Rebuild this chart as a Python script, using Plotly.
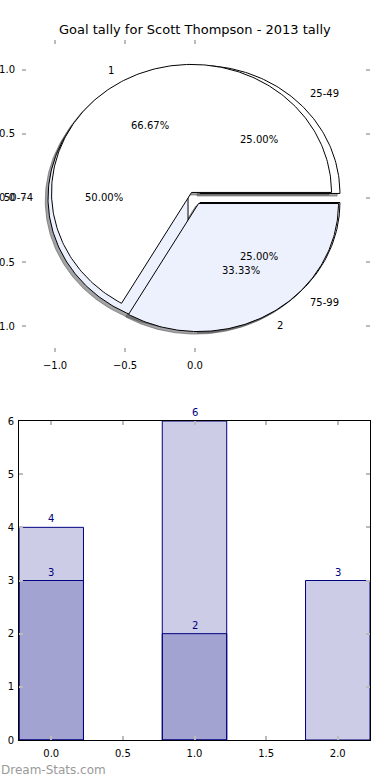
import numpy as np
import plotly.graph_objects as go

W, H = 390, 780

# ---------------- data ----------------
title = "Goal tally for Scott Thompson - 2013 tally"

# pie drawn first (underneath)
pie_a_labels = ["25-49", "50-74", "75-99"]
pie_a_values = [1, 2, 1]
# pie drawn second (on top)
pie_b_labels = ["1", "2"]
pie_b_values = [2, 1]

bar_x = [0, 1, 2]
bar_totals = [4, 6, 3]
bar_second = [3, 2, 0]

pie_xticks = [-1.0, -0.5, 0.0]
pie_yticks = [1.0, 0.5, 0.0, -0.5, -1.0]
bar_xticks = [0.0, 0.5, 1.0, 1.5, 2.0]
bar_yticks = [0, 1, 2, 3, 4, 5, 6]

# ---------------- styles ----------------
FONT = "DejaVu Sans"
pie_colors = ["#ffffff", "#ecf1fd"]
explode = 0.05
radius = 1.0
shadow_off = (-0.02, -0.02)
bar_fill = "rgba(0,0,128,0.2)"
bar_edge = "#000080"
tick_gray = "#bbbbbb"


def px_x(p):
    return p / W


def px_y(p):
    return 1 - p / H


fig = go.Figure()


def wedges(values):
    total = float(sum(values))
    out = []
    start = 0.0
    for v in values:
        frac = v / total
        t1, t2 = 360 * start, 360 * (start + frac)
        mid = np.deg2rad((t1 + t2) / 2)
        cx, cy = explode * np.cos(mid), explode * np.sin(mid)
        n = max(int(abs(t2 - t1)), 2) + 1
        th = np.deg2rad(np.linspace(t1, t2, n))
        xs = np.concatenate([[cx], cx + radius * np.cos(th), [cx]])
        ys = np.concatenate([[cy], cy + radius * np.sin(th), [cy]])
        out.append(dict(xs=xs, ys=ys, mid=mid, cx=cx, cy=cy, frac=frac))
        start += frac
    return out


wa = wedges(pie_a_values)
wb = wedges(pie_b_values)


def rgb_to_shadow(hexc):
    r = int(hexc[1:3], 16) * 0.3
    g = int(hexc[3:5], 16) * 0.3
    b = int(hexc[5:7], 16) * 0.3
    return f"rgba({r:.0f},{g:.0f},{b:.0f},0.5)"


# shadows (all below wedges)
for ws in (wa, wb):
    for i, w in enumerate(ws):
        sc = rgb_to_shadow(pie_colors[i % len(pie_colors)])
        fig.add_trace(go.Scatter(
            x=w["xs"] + shadow_off[0], y=w["ys"] + shadow_off[1], mode="lines",
            fill="toself", fillcolor=sc, line=dict(color=sc, width=1),
            hoverinfo="skip", showlegend=False, xaxis="x", yaxis="y"))

# wedges
for ws in (wa, wb):
    for i, w in enumerate(ws):
        fig.add_trace(go.Scatter(
            x=w["xs"], y=w["ys"], mode="lines", fill="toself",
            fillcolor=pie_colors[i % len(pie_colors)],
            line=dict(color="black", width=1),
            hoverinfo="skip", showlegend=False, xaxis="x", yaxis="y"))

annotations = []
for ws, labels in ((wa, pie_a_labels), (wb, pie_b_labels)):
    for w, lab in zip(ws, labels):
        lx = w["cx"] + 1.1 * radius * np.cos(w["mid"])
        ly = w["cy"] + 1.1 * radius * np.sin(w["mid"])
        annotations.append(dict(
            x=lx, y=ly, xref="x", yref="y", text=lab, showarrow=False,
            xanchor="left" if lx > 0 else "right", yanchor="middle",
            font=dict(family=FONT, size=10, color="black"), borderpad=0))
        tx = w["cx"] + 0.6 * radius * np.cos(w["mid"])
        ty = w["cy"] + 0.6 * radius * np.sin(w["mid"])
        annotations.append(dict(
            x=tx, y=ty, xref="x", yref="y", text=f"{100 * w['frac']:.2f}%",
            showarrow=False, xanchor="center", yanchor="middle",
            font=dict(family=FONT, size=10, color="black"), borderpad=0))

# ---------------- bars ----------------
fig.add_trace(go.Bar(
    x=bar_x, y=bar_totals, width=0.45, marker=dict(color=bar_fill, line=dict(color=bar_edge, width=1)),
    hoverinfo="skip", showlegend=False, xaxis="x2", yaxis="y2"))
sx = [x for x, v in zip(bar_x, bar_second) if v > 0]
sy = [v for v in bar_second if v > 0]
fig.add_trace(go.Bar(
    x=sx, y=sy, width=0.45, marker=dict(color=bar_fill, line=dict(color=bar_edge, width=1)),
    hoverinfo="skip", showlegend=False, xaxis="x2", yaxis="y2"))

for xs_, ys_ in ((bar_x, bar_totals), (sx, sy)):
    for x, v in zip(xs_, ys_):
        annotations.append(dict(
            x=x, y=v, xref="x2", yref="y2", text=str(v), showarrow=False,
            xanchor="center", yanchor="bottom", yshift=2,
            font=dict(family=FONT, size=10, color="#000080"), borderpad=0))

annotations.append(dict(
    x=px_x(195), y=px_y(30), xref="paper", yref="paper", text=title, showarrow=False,
    xanchor="center", yanchor="middle", font=dict(family=FONT, size=13, color="black")))
annotations.append(dict(
    x=0, y=px_y(770), xref="paper", yref="paper", text="Dream-Stats.com", showarrow=False,
    xanchor="left", yanchor="middle", font=dict(family=FONT, size=12, color="#9a9a9a"), borderpad=0))

tickfont = dict(family=FONT, size=10, color="black")
common = dict(ticks="inside", ticklen=4, tickwidth=1.5, tickcolor=tick_gray,
              showgrid=False, zeroline=False, tickfont=tickfont, fixedrange=True,
              automargin=False, mirror="ticks")

fig.update_layout(
    width=W, height=H, margin=dict(l=0, r=0, t=0, b=0, autoexpand=False),
    paper_bgcolor="white", plot_bgcolor="white",
    barmode="overlay", annotations=annotations, showlegend=False,
    xaxis=dict(domain=[px_x(22), px_x(370)], range=[-1.236, 1.25], anchor="y",
               tickvals=pie_xticks, ticktext=[f"{v:.1f}".replace("-", "\u2212") for v in pie_xticks],
               showline=True, linecolor="rgba(0,0,0,0)", ticklabelstandoff=4, **common),
    yaxis=dict(domain=[px_y(352), px_y(40)], range=[-1.203, 1.234], anchor="x",
               tickvals=pie_yticks, ticktext=[f"{v:.1f}".replace("-", "\u2212") for v in pie_yticks],
               showline=True, linecolor="rgba(0,0,0,0)", ticklabelstandoff=4, **common),
    xaxis2=dict(domain=[px_x(19), px_x(370)], range=[-0.225, 2.225], anchor="y2",
                tickvals=bar_xticks, ticktext=[f"{v:.1f}" for v in bar_xticks],
                showline=True, linecolor="black", linewidth=1, ticklabelstandoff=4, **common),
    yaxis2=dict(domain=[px_y(740), px_y(421)], range=[0, 6], anchor="x2",
                tickvals=bar_yticks, ticktext=[str(v) for v in bar_yticks],
                showline=True, linecolor="black", linewidth=1, ticklabelstandoff=2, **common),
)

fig.write_html("out.html", config={"displayModeBar": False},
               post_script="document.body.style.margin='0px';document.body.style.overflow='hidden';")
